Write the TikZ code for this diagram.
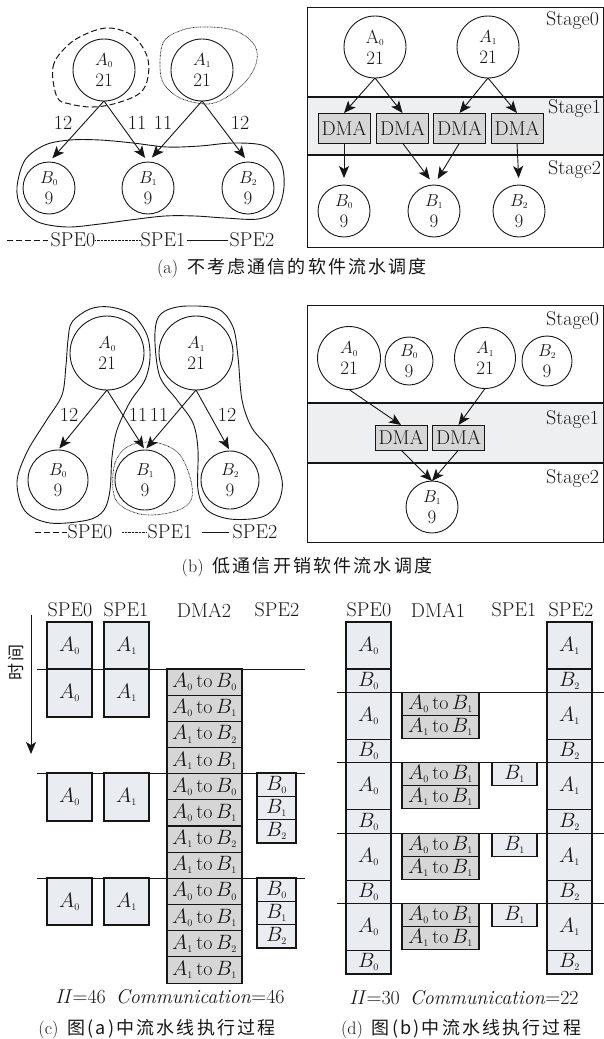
\documentclass[tikz,border=0pt]{standalone}
\usepackage{fontspec}
\newfontfamily\cjk[LetterSpace=12]{Noto Sans CJK SC}
\usetikzlibrary{arrows.meta}
\newcommand\myA[1]{$A_{\scriptscriptstyle #1}$}
\newcommand\myB[1]{$B_{\scriptscriptstyle #1}$}
\newcommand\myAr[1]{$\mathrm{A}_{\scriptscriptstyle #1}$}
\newcommand\xfer[2]{$A_{\scriptscriptstyle #1}\,\mathrm{to}\,B_{\scriptscriptstyle #2}$}
\definecolor{lightbox}{HTML}{E9EDF2}
\definecolor{dmabox}{HTML}{D6D6D6}
\definecolor{bandc}{HTML}{EEEFF1}
\definecolor{ink}{HTML}{161616}
\begin{document}
\begin{tikzpicture}[x=1pt,y=-1pt, line width=0.9pt, draw=ink,
  every node/.style={inner sep=0pt, outer sep=0pt, font=\fontsize{20}{20}\selectfont, text=ink},
  cnode/.style={circle, draw=ink, line width=0.9pt, minimum size=#1, align=center, font=\fontsize{19}{21}\selectfont},
  arr/.style={draw=ink, -{Stealth[length=12pt,width=10pt,inset=3pt]}, line width=0.9pt},
  dmab/.style={draw=ink, fill=dmabox, line width=1pt, minimum width=52pt, minimum height=#1},
  lbox/.style={draw=ink, fill=lightbox, line width=1.1pt, anchor=north west},
  dbox/.style={draw=ink, fill=dmabox, line width=1.1pt, anchor=north west},
  dashline/.style={draw=ink, dash pattern=on 6pt off 3pt, line width=1pt},
  dotline/.style={draw=ink, dash pattern=on 0.7pt off 0.7pt, line width=0.7pt},
  captext/.style={font=\fontsize{18}{18}\selectfont},
  lbl/.style={font=\fontsize{20}{20}\selectfont}
]
\useasboundingbox (0,0) rectangle (604,1039);

% ================= (a) left =================
\node[cnode=62pt] (aA0) at (104,70) {\myA0\\21};
\node[cnode=62pt] (aA1) at (202,70) {\myA1\\21};
\node[cnode=52pt] (aB0) at (49,188) {\myB0\\9};
\node[cnode=52pt] (aB1) at (148,188) {\myB1\\9};
\node[cnode=52pt] (aB2) at (248,188) {\myB2\\9};
\draw[arr, shorten >=5pt] (aA0.south) -- (aB0.north);
\draw[arr, shorten >=5pt] (aA0.south) -- (aB1.north);
\draw[arr, shorten >=6pt] (aA1.south) -- (aB1.north);
\draw[arr, shorten >=5pt] (aA1.south) -- (aB2.north);
\node[lbl] (al1) at (63,123) {12};
\node[lbl] (al2) at (137,123) {11};
\node[lbl] (al3) at (163,123) {11};
\node[lbl] (al4) at (240,123) {12};
\draw[dashline] plot[smooth cycle, tension=0.6] coordinates {(57,97) (53,67) (67,46) (88,33) (110,28) (133,36) (147,56) (148,77) (140,93) (117,103) (93,107) (70,104)};
\draw[dotline] plot[smooth cycle, tension=0.6] coordinates {(160,67) (163,43) (177,32) (200,27) (233,30) (253,43) (257,60) (247,80) (227,97) (207,104) (180,98) (164,84)};
\draw plot[smooth cycle, tension=0.55] coordinates {(17,187) (25,160) (45,145) (70,140) (100,140) (133,143) (167,147) (200,146) (233,143) (265,146) (281,163) (284,187) (277,210) (258,219) (225,218) (195,216) (165,216) (130,220) (100,224) (67,227) (38,222) (21,207)};
% legend (a)
\node (aleg0) at (73,240) {SPE0};
\node (aleg1) at (163,240) {SPE1};
\node (aleg2) at (252,240) {SPE2};
\coordinate (alegs) at (7,240);
\draw[dashline, shorten >=3pt] (alegs) -- (aleg0.west);
\draw[dotline] (aleg0.east) -- (aleg1.west);
\draw[line width=0.9pt, shorten <=2pt, shorten >=2pt] (aleg1.east) -- (aleg2.west);
\node[captext] (capa) at (292,268) {(a)\enspace{\cjk 不考虑通信的软件流水调度}};

% ================= (a) right =================
\fill[bandc] (307,97) rectangle (603,155);
\draw[line width=0.9pt] (307,7) rectangle (603,247);
\draw[line width=1.6pt] (307,97) -- (603,97);
\draw[line width=1.6pt] (307,155) -- (603,155);
\node[anchor=north east] (arS0) at (599,12) {Stage0};
\node[anchor=north east] (arS1) at (601,100) {Stage1};
\node[anchor=north east] (arS2) at (601,161) {Stage2};
\node[cnode=62pt] (arA0) at (375,47) {\myAr0\\21};
\node[cnode=62pt] (arA1) at (488,47) {\myA1\\21};
\node[dmab=30pt] (ard1) at (344,128) {DMA};
\node[dmab=30pt] (ard2) at (402.5,128) {DMA};
\node[dmab=30pt] (ard3) at (459.5,128) {DMA};
\node[dmab=30pt] (ard4) at (517,128) {DMA};
\node[cnode=52pt] (arB0) at (344,211) {\myB0\\9};
\node[cnode=52pt] (arB1) at (434,211) {\myB1\\9};
\node[cnode=52pt] (arB2) at (519,211) {\myB2\\9};
\draw[arr] (arA0.south) -- (ard1.north);
\draw[arr] (arA0.south) -- (ard2.north);
\draw[arr] (arA1.south) -- (ard3.north);
\draw[arr] (arA1.south) -- (ard4.north);
\draw[arr, shorten >=7pt] (ard1.south) -- (arB0.north);
\draw[arr, shorten >=7pt] (ard2.south) -- (arB1.north);
\draw[arr, shorten >=7pt] (ard3.south) -- (arB1.north);
\draw[arr, shorten >=7pt] (ard4.south) -- (arB2.north);

% ================= (b) left =================
\node[cnode=74pt] (bA0) at (107,353) {\myA0\\21};
\node[cnode=74pt] (bA1) at (196,353) {\myA1\\21};
\node[cnode=60pt] (bB0) at (58,480) {\myB0\\9};
\node[cnode=60pt] (bB1) at (145,480) {\myB1\\9};
\node[cnode=58pt] (bB2) at (230,480) {\myB2\\9};
\draw[arr, shorten >=2pt] (bA0.south) -- (bB0.north);
\draw[arr, shorten >=2pt] (bA0.south) -- (bB1.north);
\draw[arr, shorten >=2pt] (bA1.south) -- (bB1.north);
\draw[arr, shorten >=2pt] (bA1.south) -- (bB2.north);
\node[lbl] (bl1) at (69,415) {12};
\node[lbl] (bl2) at (138,415) {11};
\node[lbl] (bl3) at (159,415) {11};
\node[lbl] (bl4) at (227,415) {12};
\draw plot[smooth cycle, tension=0.55] coordinates {(72,322) (90,309) (110,307) (133,315) (147,335) (150,358) (145,380) (130,402) (117,430) (112,457) (110,490) (104,510) (88,520) (50,523) (25,511) (17,482) (27,452) (46,421) (62,395) (66,365) (68,340)};
\draw plot[smooth cycle, tension=0.55] coordinates {(167,310) (187,306) (218,309) (233,327) (238,357) (242,400) (252,428) (270,450) (282,480) (278,503) (262,517) (230,519) (207,510) (198,490) (198,450) (193,423) (177,400) (160,377) (155,343) (157,320)};
\draw[dotline] plot[smooth cycle, tension=0.6] coordinates {(113,490) (115,463) (127,447) (147,442) (165,445) (180,455) (190,477) (192,497) (183,508) (163,514) (140,514) (120,505)};
% legend (b)
\node (bleg0) at (90,532) {SPE0};
\node (bleg1) at (170,532) {SPE1};
\node (bleg2) at (255,532) {SPE2};
\coordinate (blegs) at (35,532);
\coordinate (blegd) at (122,532);
\coordinate (blegl) at (202,532);
\draw[dashline, shorten >=1pt] (blegs) -- (bleg0.west);
\draw[dotline, shorten >=1pt] (blegd) -- (bleg1.west);
\draw[line width=0.9pt, shorten >=4pt] (blegl) -- (bleg2.west);
\node[captext] (capb) at (307,567) {(b)\enspace{\cjk 低通信开销软件流水调度}};

% ================= (b) right =================
\fill[bandc] (307,403) rectangle (603,463);
\draw[line width=0.9pt] (307,305) rectangle (603,542);
\draw[line width=1.6pt] (307,403) -- (603,403);
\draw[line width=1.6pt] (307,463) -- (603,463);
\node[anchor=north east] (brS0) at (599,312) {Stage0};
\node[anchor=north east] (brS1) at (599,411) {Stage1};
\node[anchor=north east] (brS2) at (599,470) {Stage2};
\node[cnode=63pt] (brA0) at (349,358) {\myA0\\21};
\node[cnode=48pt] (brB0) at (409,361) {\myB0\\9};
\node[cnode=61pt] (brA1) at (485,358) {\myA1\\21};
\node[cnode=50pt] (brB2) at (547,361) {\myB2\\9};
\node[dmab=25pt] (brd1) at (401,437.5) {DMA};
\node[dmab=25pt] (brd2) at (458.5,437.5) {DMA};
\node[cnode=52pt] (brB1) at (432,507) {\myB1\\9};
\draw[arr] (brA0.south) -- (brd1.north);
\draw[arr] (brA1.south) -- (brd2.north);
\draw[arr] (brd1.south) -- (brB1.north);
\draw[arr] (brd2.south) -- (brB1.north);

% ================= (c) =================
\node (chs0) at (70,610) {SPE0};
\node (chs1) at (126,610) {SPE1};
\node (chd2) at (204,610) {DMA2};
\node (chs2) at (277,610) {SPE2};
\coordinate (ctop) at (31,615);
\coordinate (cbot) at (31,754);
\draw[arr] (ctop) -- (cbot);
\node[rotate=90, font=\fontsize{17}{17}\selectfont] (ctime) at (16,662) {\cjk 时间};
\foreach \yl in {669,773,878} \draw[line width=1pt] (37,\yl) -- (305,\yl);
\foreach \yy/\hh [count=\i] in {622/47,669/48,773/48,878/47} {
  \node[lbox, minimum width=45pt, minimum height=\hh pt] (cp0-\i) at (47,\yy) {\myA0};
  \node[lbox, minimum width=45pt, minimum height=\hh pt] (cp1-\i) at (104,\yy) {\myA1};
}
\foreach \k in {0,1,2} {
  \foreach \j/\a/\b in {0/0/0,1/0/1,2/1/2,3/1/1} {
    \pgfmathsetmacro\yy{669+(4*\k+\j)*26.17}
    \node[dbox, minimum width=75pt, minimum height=26.17pt] (cd-\k-\j) at (167,\yy) {\xfer{\a}{\b}};
  }
}
\foreach \k/\ys in {1/773,2/878} {
  \foreach \j in {0,1,2} {
    \pgfmathsetmacro\yy{\ys+\j*23.33}
    \node[lbox, minimum width=39pt, minimum height=23.33pt] (cs2-\k-\j) at (257,\yy) {\myB\j};
  }
}
\node (cii) at (170,997) {\textit{II}$=$46\enspace\textit{Communication}$=$46};
\node[captext] (capc) at (157,1029) {(c)\enspace{\cjk 图(a)中流水线执行过程}};

% ================= (d) =================
\node (dhs0) at (369,610) {SPE0};
\node (dhd1) at (438,610) {DMA1};
\node (dhs1) at (514,610) {SPE1};
\node (dhs2) at (571,610) {SPE2};
\foreach \k in {1,...,4} {
  \pgfmathsetmacro\yl{622+70.4*\k}
  \draw[line width=1pt] (337,\yl) -- (604,\yl);
}
\foreach \k in {0,...,4} {
  \pgfmathsetmacro\ya{622+70.4*\k}
  \pgfmathsetmacro\yb{\ya+47}
  \node[lbox, minimum width=45pt, minimum height=47pt] (da0-\k) at (346,\ya) {\myA0};
  \node[lbox, minimum width=45pt, minimum height=23.4pt] (db0-\k) at (346,\yb) {\myB0};
  \node[lbox, minimum width=45pt, minimum height=47pt] (da1-\k) at (547,\ya) {\myA1};
  \node[lbox, minimum width=45pt, minimum height=23.4pt] (db2-\k) at (547,\yb) {\myB2};
}
\foreach \k in {1,...,4} {
  \pgfmathsetmacro\yl{622+70.4*\k}
  \pgfmathsetmacro\ym{\yl+23}
  \node[dbox, minimum width=77pt, minimum height=23pt] (dd0-\k) at (402,\yl) {\xfer01};
  \node[dbox, minimum width=77pt, minimum height=23pt] (dd1-\k) at (402,\ym) {\xfer11};
}
\foreach \k in {2,3,4} {
  \pgfmathsetmacro\yl{622+70.4*\k}
  \node[lbox, minimum width=45pt, minimum height=23pt] (ds1-\k) at (492,\yl) {\myB1};
}
\node (dii) at (464,998) {\textit{II}$=$30\enspace\textit{Communication}$=$22};
\node[captext] (capd) at (461,1029) {(d)\enspace{\cjk 图(b)中流水线执行过程}};
\end{tikzpicture}
\end{document}
